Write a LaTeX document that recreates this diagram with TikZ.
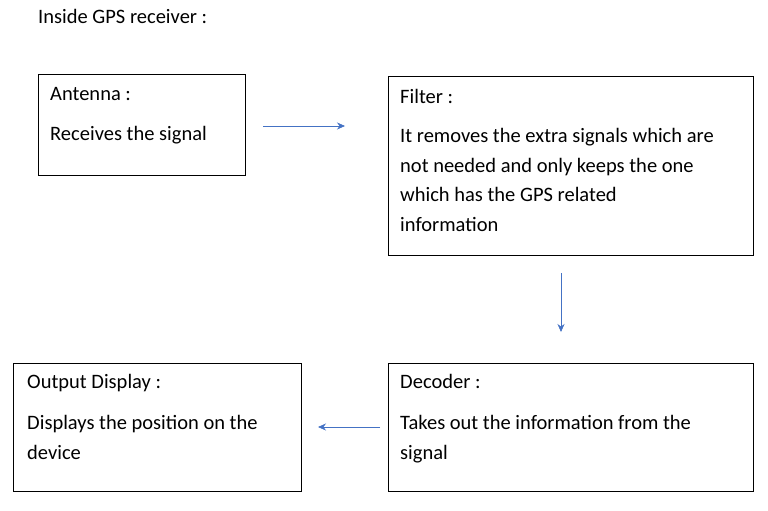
\documentclass[tikz,border=0pt]{standalone}
\usepackage{fontspec}
\setmainfont{Carlito}
\usetikzlibrary{arrows.meta}
\definecolor{arrowblue}{HTML}{4472C4}
\begin{document}
\begin{tikzpicture}[x=1pt, y=-1pt]
\tikzstyle{every node} = [font = \fontsize{20.5}{29.5}\selectfont]
\tikzstyle{box} = [draw, rectangle, line width=.8pt, inner sep=0pt]
\tikzstyle{txt} = [anchor=north west, inner sep=0pt, align=left]
\tikzstyle{link} = [draw=arrowblue, line width=.7pt, -{Stealth[length=8pt,width=7pt]}]
\useasboundingbox (0,0) rectangle (768,511);
\node [txt] (title) at (38,9) {Inside GPS receiver :};
% boxes
\node [box, minimum width=207pt, minimum height=101pt] (antenna) at (141.5,124.5) {};
\node [box, minimum width=365pt, minimum height=179pt] (filter) at (570.5,165.5) {};
\node [box, minimum width=365pt, minimum height=128pt] (decoder) at (570.5,427) {};
\node [box, minimum width=288pt, minimum height=128pt] (output) at (157,427) {};
% texts
\node [txt] (antennatxt) at (50,87) {Antenna :\\[11pt]Receives the signal};
\node [txt] (filtertxt) at (400,89) {Filter :\\[10pt]It removes the extra signals which are\\not needed and only keeps the one\\which has the GPS related\\information};
\node [txt] (decodertxt) at (400,374) {Decoder :\\[12pt]Takes out the information from the\\signal};
\node [txt] (outputtxt) at (27,374) {Output Display :\\[12pt]Displays the position on the\\device};
% arrows
\coordinate (a1) at (263,126); \coordinate (a2) at (345,126);
\coordinate (b1) at (561,273); \coordinate (b2) at (561,332);
\coordinate (c1) at (380,427); \coordinate (c2) at (318,427);
\draw [link] (a1) -- (a2);
\draw [link] (b1) -- (b2);
\draw [link] (c1) -- (c2);
\end{tikzpicture}
\end{document}
